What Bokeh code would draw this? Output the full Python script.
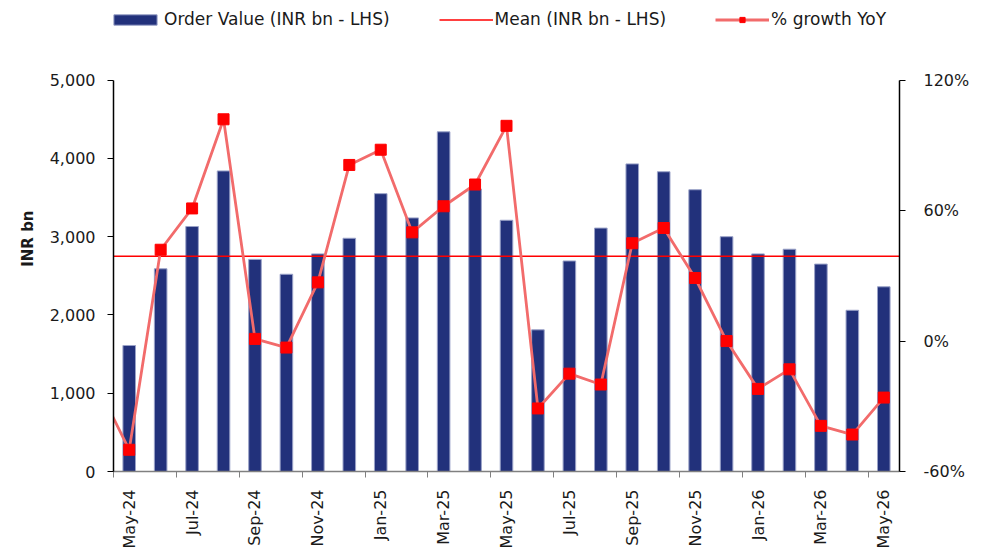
import numpy as np
from bokeh.plotting import figure
from bokeh.models import (Range1d, LinearAxis, FixedTicker, NumeralTickFormatter,
                          PrintfTickFormatter, Legend, LegendItem)
from bokeh.embed import file_html
from bokeh.resources import INLINE

# ---------------- data ----------------
MONTHS = ["May-24", "Jun-24", "Jul-24", "Aug-24", "Sep-24", "Oct-24", "Nov-24",
          "Dec-24", "Jan-25", "Feb-25", "Mar-25", "Apr-25", "May-25", "Jun-25",
          "Jul-25", "Aug-25", "Sep-25", "Oct-25", "Nov-25", "Dec-25", "Jan-26",
          "Feb-26", "Mar-26", "Apr-26", "May-26"]
ORDER_VALUE = [1610, 2590, 3130, 3840, 2710, 2520, 2780, 2980, 3550, 3240, 4340,
               3610, 3210, 1810, 2690, 3110, 3930, 3830, 3600, 3000, 2780, 2840,
               2650, 2060, 2360]
GROWTH_PREV_MONTH = "Apr-24"   # previous point, only its segment shows at the left edge
GROWTH_PREV = -21
GROWTH = [-50, 42, 61, 102, 1, -3, 27, 81, 88, 50, 62, 72, 99, -31, -15, -20,
          45, 52, 29, 0, -22, -13, -39, -43, -26]
MEAN_VALUE = 2750
LEFT_TICKS = [0, 1000, 2000, 3000, 4000, 5000]
RIGHT_TICKS = [-60, 0, 60, 120]
LABEL_EVERY = 2

FONT = "DejaVu Sans"
TXT = "#1a1a1a"

# ---------------- layout ----------------
W, H = 975, 551
B_LEFT, B_RIGHT, B_BOTTOM = 113, 76, 78
FRAME_H = H - B_BOTTOM          # frame runs from the top of the canvas
PLOT_TOP = 80                   # where the axes end (room above for the legend)


def extend(lo, hi):
    return hi + (hi - lo) * PLOT_TOP / (FRAME_H - PLOT_TOP)


n = len(MONTHS)
x = list(range(n))

p = figure(width=W, height=H, output_backend="svg", toolbar_location=None,
           x_range=Range1d(-0.5, n - 0.5),
           y_range=Range1d(LEFT_TICKS[0], extend(LEFT_TICKS[0], LEFT_TICKS[-1])),
           min_border_left=B_LEFT, min_border_right=B_RIGHT, min_border_top=0,
           min_border_bottom=B_BOTTOM)
p.extra_y_ranges = {"pct": Range1d(RIGHT_TICKS[0], extend(RIGHT_TICKS[0], RIGHT_TICKS[-1]))}
p.outline_line_color = None
p.grid.visible = False
p.background_fill_color = "white"
p.border_fill_color = "white"

bars = p.vbar(x=x, top=ORDER_VALUE, width=0.4, fill_color="#22317B",
              line_color="#9aa2c8", line_width=1)
mean = p.line(x=[-0.5, n - 0.5], y=[MEAN_VALUE, MEAN_VALUE], line_color="#FF0000",
              line_width=1.5)
gx = [-1] + x
gy = [GROWTH_PREV] + GROWTH
gline = p.line(x=gx, y=gy, y_range_name="pct", line_color="#F26B6B", line_width=2.8)
gpts = p.scatter(x=x, y=GROWTH, y_range_name="pct", marker="square", size=11,
                 fill_color="#FF0000", line_color="#FF0000")

# left axis
ya = p.yaxis[0]
ya.bounds = (LEFT_TICKS[0], LEFT_TICKS[-1])
ya.ticker = FixedTicker(ticks=LEFT_TICKS)
ya.formatter = NumeralTickFormatter(format="0,0")
ya.axis_label = "INR  bn"
ya.axis_label_text_font = FONT
ya.axis_label_text_font_style = "bold"
ya.axis_label_text_font_size = "15px"
ya.axis_label_text_color = TXT
ya.axis_label_standoff = 10
ya.major_label_text_font = FONT
ya.major_label_text_font_size = "16px"
ya.major_label_text_color = TXT
ya.major_tick_out = 6
ya.major_tick_in = 0
ya.minor_tick_out = 0
ya.minor_tick_in = 0
ya.axis_line_color = "black"
ya.axis_line_width = 1.5
ya.major_tick_line_color = "black"
ya.major_label_standoff = 12

# right axis
ra = LinearAxis(y_range_name="pct", ticker=FixedTicker(ticks=RIGHT_TICKS),
                formatter=PrintfTickFormatter(format="%d%%"),
                bounds=(RIGHT_TICKS[0], RIGHT_TICKS[-1]))
ra.major_label_text_font = FONT
ra.major_label_text_font_size = "16px"
ra.major_label_text_color = TXT
ra.major_tick_out = 6
ra.major_tick_in = 0
ra.minor_tick_out = 0
ra.minor_tick_in = 0
ra.axis_line_color = "black"
ra.axis_line_width = 1.5
ra.major_label_standoff = 18
p.add_layout(ra, "right")

# x axis
xa = p.xaxis[0]
label_pos = list(range(0, n, LABEL_EVERY))
xa.ticker = FixedTicker(ticks=label_pos,
                        minor_ticks=[i - 0.5 for i in range(0, n + 1, LABEL_EVERY)])
xa.major_label_overrides = {i: MONTHS[i] for i in label_pos}
xa.major_label_orientation = np.pi / 2
xa.major_label_text_font = FONT
xa.major_label_text_font_size = "16px"
xa.major_label_text_color = TXT
xa.major_tick_out = 0
xa.major_tick_in = 0
xa.minor_tick_out = 6
xa.minor_tick_in = 0
xa.minor_tick_line_color = "#808080"
xa.axis_line_color = "#808080"
xa.axis_line_width = 1.5
xa.major_label_standoff = 12

legend = Legend(items=[
    LegendItem(label="Order Value (INR bn - LHS)", renderers=[bars]),
    LegendItem(label="Mean (INR bn - LHS)", renderers=[mean]),
    LegendItem(label="% growth YoY", renderers=[gline, gpts]),
], orientation="horizontal", location=(-5, FRAME_H - 31))
legend.label_text_font = FONT
legend.label_text_font_size = "17px"
legend.label_text_color = TXT
legend.glyph_width = 54
legend.glyph_height = 13
legend.label_height = 13
legend.label_standoff = 2
legend.spacing = 49
legend.padding = 0
legend.margin = 0
legend.border_line_color = None
legend.background_fill_alpha = 0
p.add_layout(legend)

open("out.html", "w").write(file_html(p, INLINE))
